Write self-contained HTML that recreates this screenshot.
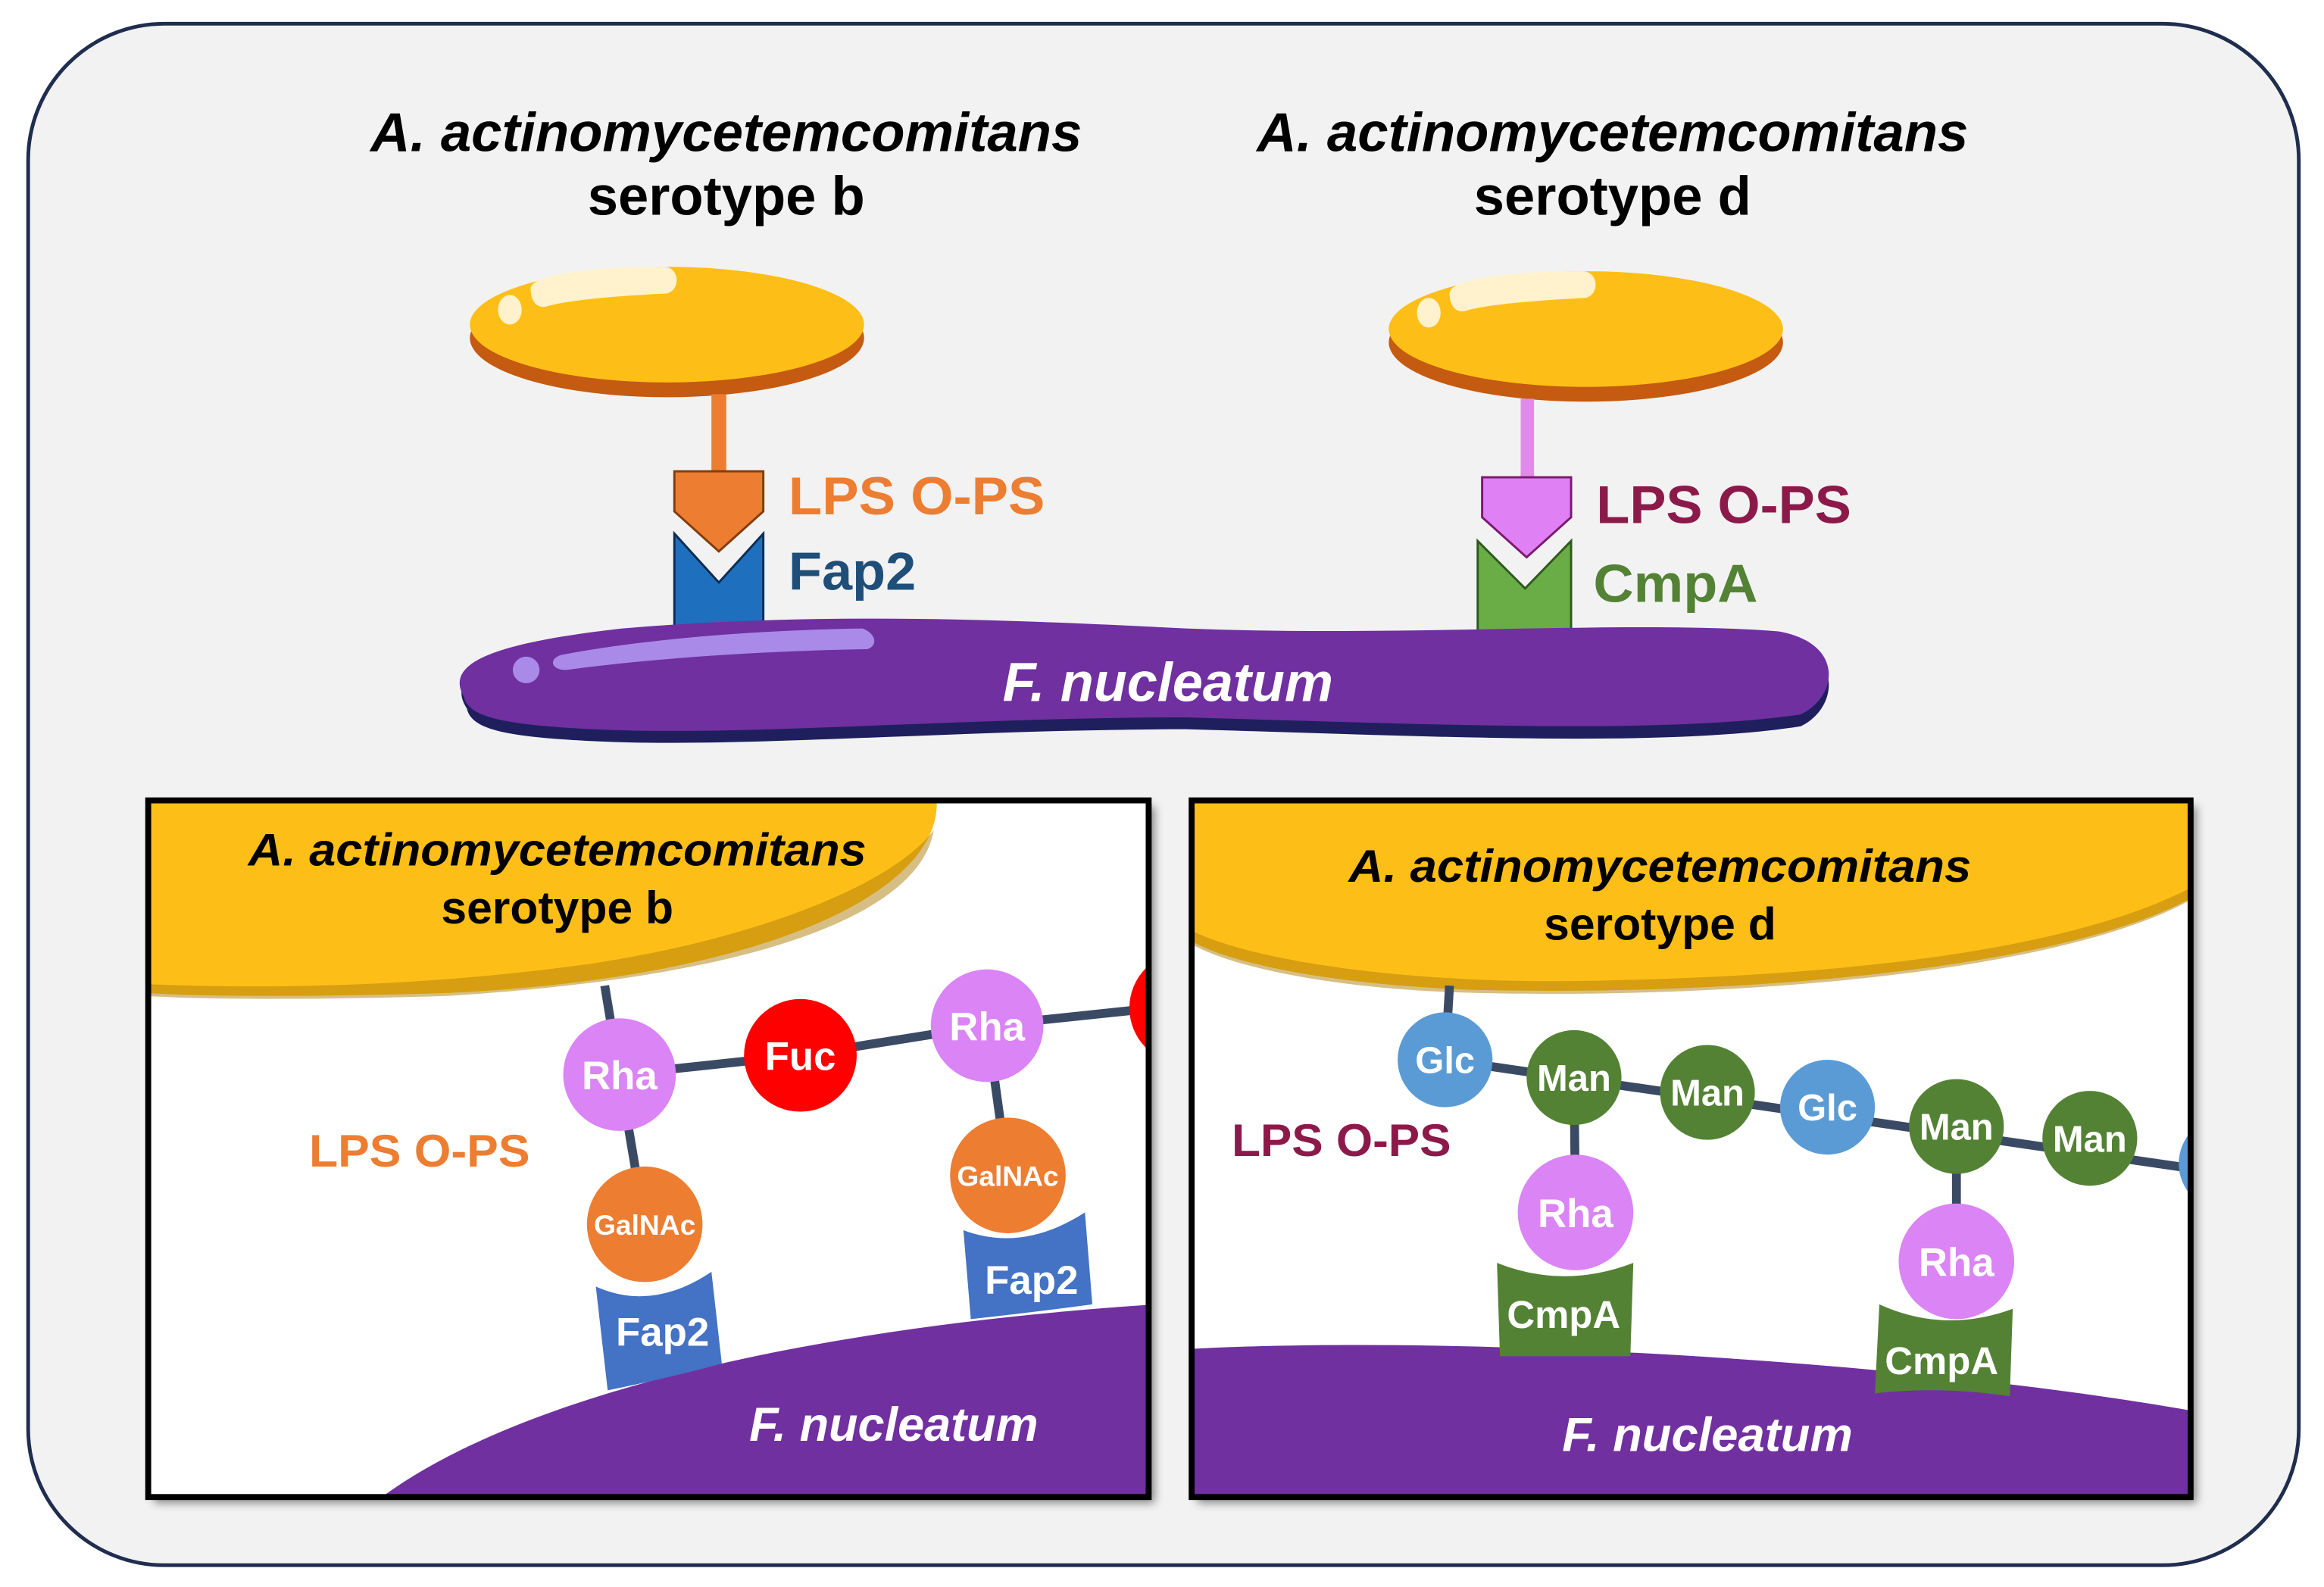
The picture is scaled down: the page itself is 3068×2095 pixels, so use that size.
<!DOCTYPE html>
<html><head><meta charset="utf-8"><style>
html,body{margin:0;padding:0;background:#fff;}
svg{display:block;}
text{font-family:"Liberation Sans",Arial,sans-serif;font-weight:bold;}
</style></head><body>
<svg width="3068" height="2095" viewBox="0 0 1568 1070.7" preserveAspectRatio="none" xmlns="http://www.w3.org/2000/svg">
<defs>
<filter id="sh" x="-5%" y="-5%" width="115%" height="115%"><feDropShadow dx="4" dy="4" stdDeviation="3" flood-color="#000" flood-opacity="0.45"/></filter>
<clipPath id="cl"><rect x="100" y="540" width="675" height="470"/></clipPath>
<clipPath id="cr"><rect x="804" y="540" width="674" height="470"/></clipPath>
</defs>
<rect width="1568" height="1071" fill="#fff"/>
<rect x="19" y="16" width="1532" height="1040" rx="92" fill="#f2f2f2" stroke="#1f2d4e" stroke-width="2.5"/>

<g font-size="37" text-anchor="middle" fill="#000">
<text x="490" y="102" font-style="italic" textLength="480" lengthAdjust="spacingAndGlyphs">A. actinomycetemcomitans</text>
<text x="490" y="145">serotype b</text>
<text x="1088" y="102" font-style="italic" textLength="480" lengthAdjust="spacingAndGlyphs">A. actinomycetemcomitans</text>
<text x="1088" y="145">serotype d</text>
</g>

<!-- left cell -->
<ellipse cx="450" cy="228" rx="133" ry="40" fill="#c55a11"/>
<ellipse cx="450" cy="219" rx="133" ry="39" fill="#fdbf17"/>
<path d="M358,195 C358,185 400,180 448,180 C458,180 460,195 450,198 C410,200 380,203 368,207 C360,208 358,200 358,195 Z" fill="#fff2cc"/>
<ellipse cx="344" cy="209" rx="8" ry="10" fill="#fff2cc"/>
<rect x="480" y="266" width="10" height="53" fill="#ed7d31"/>
<path d="M455,318 L515,318 L515,345 L485,372 L455,345 Z" fill="#ed7d31" stroke="#843c0c" stroke-width="1.5"/>
<path d="M455,360 L485,393 L515,360 L515,424 L455,424 Z" fill="#1f6fbf" stroke="#0e2d52" stroke-width="1.5"/>
<text x="532" y="347" font-size="36" fill="#ed7d31" textLength="173" lengthAdjust="spacingAndGlyphs">LPS O-PS</text>
<text x="532" y="398" font-size="36" fill="#1f4e79" textLength="86" lengthAdjust="spacingAndGlyphs">Fap2</text>

<!-- right cell -->
<ellipse cx="1070" cy="231" rx="133" ry="40" fill="#c55a11"/>
<ellipse cx="1070" cy="222" rx="133" ry="39" fill="#fdbf17"/>
<path d="M978,198 C978,188 1020,183 1068,183 C1078,183 1080,198 1070,201 C1030,203 1000,206 988,210 C980,211 978,203 978,198 Z" fill="#fff2cc"/>
<ellipse cx="964" cy="211" rx="8" ry="10" fill="#fff2cc"/>
<rect x="1026" y="269" width="9" height="54" fill="#e18be8"/>
<path d="M1000,322 L1060,322 L1060,349 L1030,376 L1000,349 Z" fill="#df80f5" stroke="#7a1a6e" stroke-width="1.5"/>
<path d="M997,365 L1029,397 L1060,365 L1060,428 L997,428 Z" fill="#6aad47" stroke="#2f5a1d" stroke-width="1.5"/>
<text x="1077" y="353" font-size="36" fill="#8b1a4a" textLength="172" lengthAdjust="spacingAndGlyphs">LPS O-PS</text>
<text x="1075" y="406" font-size="36" fill="#548235" textLength="111" lengthAdjust="spacingAndGlyphs">CmpA</text>

<!-- F. nucleatum -->
<path d="M315,478 C300,455 330,440 420,430 C560,418 700,425 800,430 C950,436 1100,424 1200,432 C1245,440 1240,478 1215,490 C1120,505 950,496 800,492 C650,492 500,505 400,500 C340,497 318,492 315,478 Z" fill="#1f1f5e"/>
<path d="M313,470 C300,448 330,434 420,424 C560,412 700,419 800,424 C950,430 1100,418 1200,426 C1245,434 1240,470 1215,482 C1120,496 950,488 800,484 C650,484 500,497 400,492 C340,489 316,484 313,470 Z" fill="#7030a0"/>
<path d="M378,442 C440,430 520,425 582,424 C592,428 592,436 585,438 C520,439 440,444 382,452 C372,452 370,445 378,442 Z" fill="#a98ae8"/>
<circle cx="355" cy="452" r="9" fill="#a98ae8"/>
<text x="788" y="473" font-size="37" font-style="italic" fill="#fff" text-anchor="middle" textLength="223" lengthAdjust="spacingAndGlyphs">F. nucleatum</text>

<!-- left panel -->
<g filter="url(#sh)"><rect x="100" y="540" width="675" height="470" fill="#fff"/></g>
<g clip-path="url(#cl)">
<path d="M100,540 L632,540 C635,600 520,660 300,670 C200,673 130,672 100,670 Z" fill="#fdbf17"/>
<path d="M100,664 C200,668 300,664 400,650 C500,635 600,600 630,560 C620,620 500,660 300,672 C200,675 130,674 100,672 Z" fill="#b07e0a" opacity="0.5"/>
<path d="M255,1012 C350,940 550,895 780,880 L780,1012 Z" fill="#7030a0"/>
<g stroke="#3b4a64" stroke-width="6">
<line x1="408" y1="665" x2="418" y2="725"/><line x1="418" y1="725" x2="540" y2="712"/><line x1="540" y1="712" x2="666" y2="692"/><line x1="666" y1="692" x2="780" y2="680"/>
<line x1="418" y1="725" x2="435" y2="826"/><line x1="666" y1="692" x2="680" y2="793"/>
</g>
<path d="M402,868 Q440,885 480,858 L487,920 Q450,930 410,938 Z" fill="#4472c4"/>
<path d="M650,830 Q690,845 732,818 L737,880 Q700,885 655,890 Z" fill="#4472c4"/>
<circle cx="418" cy="725" r="38" fill="#da84f5"/>
<circle cx="540" cy="712" r="38" fill="#ff0000"/>
<circle cx="666" cy="692" r="38" fill="#da84f5"/>
<circle cx="800" cy="680" r="38" fill="#ff0000"/>
<circle cx="435" cy="826" r="39" fill="#ed7d31"/>
<circle cx="680" cy="793" r="39" fill="#ed7d31"/>
<g fill="#fff" text-anchor="middle">
<text x="418" y="735" font-size="27">Rha</text>
<text x="540" y="722" font-size="27">Fuc</text>
<text x="666" y="702" font-size="27">Rha</text>
<text x="435" y="833" font-size="19">GalNAc</text>
<text x="680" y="800" font-size="19">GalNAc</text>
<text x="447" y="908" font-size="27">Fap2</text>
<text x="696" y="873" font-size="27">Fap2</text>
<text x="603" y="972" font-size="32" font-style="italic" textLength="195" lengthAdjust="spacingAndGlyphs">F. nucleatum</text>
</g>
<text x="283" y="787" font-size="31" fill="#ed7d31" text-anchor="middle" textLength="149" lengthAdjust="spacingAndGlyphs">LPS O-PS</text>
<g font-size="31" text-anchor="middle" fill="#000">
<text x="376" y="584" font-style="italic" textLength="417" lengthAdjust="spacingAndGlyphs">A. actinomycetemcomitans</text>
<text x="376" y="623">serotype b</text>
</g>
</g>
<rect x="100" y="540" width="675" height="470" fill="none" stroke="#000" stroke-width="4"/>

<!-- right panel -->
<g filter="url(#sh)"><rect x="804" y="540" width="674" height="470" fill="#fff"/></g>
<g clip-path="url(#cr)">
<path d="M804,540 L1480,540 L1480,605 C1400,650 1200,672 1000,668 C900,665 830,650 804,635 Z" fill="#fdbf17"/>
<path d="M804,628 C850,650 950,662 1050,662 C1250,660 1400,640 1480,598 L1480,606 C1400,652 1200,674 1000,670 C900,668 830,652 804,637 Z" fill="#b07e0a" opacity="0.5"/>
<path d="M804,910 C1000,900 1300,920 1480,952 L1480,1012 L804,1012 Z" fill="#7030a0"/>
<g stroke="#3b4a64" stroke-width="6">
<line x1="978" y1="665" x2="975" y2="715"/><line x1="975" y1="715" x2="1490" y2="790"/>
<line x1="1062" y1="727" x2="1063" y2="818"/><line x1="1320" y1="760" x2="1320" y2="851"/>
</g>
<path d="M1010,852 Q1055,870 1102,852 L1100,915 L1012,915 Z" fill="#548235"/>
<path d="M1268,880 Q1312,900 1358,883 L1356,942 Q1310,935 1265,940 Z" fill="#548235"/>
<circle cx="975" cy="715" r="32" fill="#5b9bd5"/>
<circle cx="1062" cy="727" r="32" fill="#548235"/>
<circle cx="1152" cy="737" r="32" fill="#548235"/>
<circle cx="1233" cy="747" r="32" fill="#5b9bd5"/>
<circle cx="1320" cy="760" r="32" fill="#548235"/>
<circle cx="1410" cy="768" r="32" fill="#548235"/>
<circle cx="1502" cy="785" r="32" fill="#5b9bd5"/>
<circle cx="1063" cy="818" r="39" fill="#da84f5"/>
<circle cx="1320" cy="851" r="39" fill="#da84f5"/>
<g fill="#fff" text-anchor="middle">
<text x="975" y="724" font-size="25">Glc</text>
<text x="1062" y="736" font-size="25">Man</text>
<text x="1152" y="746" font-size="25">Man</text>
<text x="1233" y="756" font-size="25">Glc</text>
<text x="1320" y="769" font-size="25">Man</text>
<text x="1410" y="777" font-size="25">Man</text>
<text x="1063" y="828" font-size="27">Rha</text>
<text x="1320" y="861" font-size="27">Rha</text>
<text x="1055" y="896" font-size="26">CmpA</text>
<text x="1310" y="927" font-size="26">CmpA</text>
<text x="1152" y="979" font-size="32" font-style="italic" textLength="196" lengthAdjust="spacingAndGlyphs">F. nucleatum</text>
</g>
<text x="905" y="780" font-size="31" fill="#8b1a4a" text-anchor="middle" textLength="148" lengthAdjust="spacingAndGlyphs">LPS O-PS</text>
<g font-size="31" text-anchor="middle" fill="#000">
<text x="1120" y="595" font-style="italic" textLength="420" lengthAdjust="spacingAndGlyphs">A. actinomycetemcomitans</text>
<text x="1120" y="634">serotype d</text>
</g>
</g>
<rect x="804" y="540" width="674" height="470" fill="none" stroke="#000" stroke-width="4"/>
</svg>
</body></html>
